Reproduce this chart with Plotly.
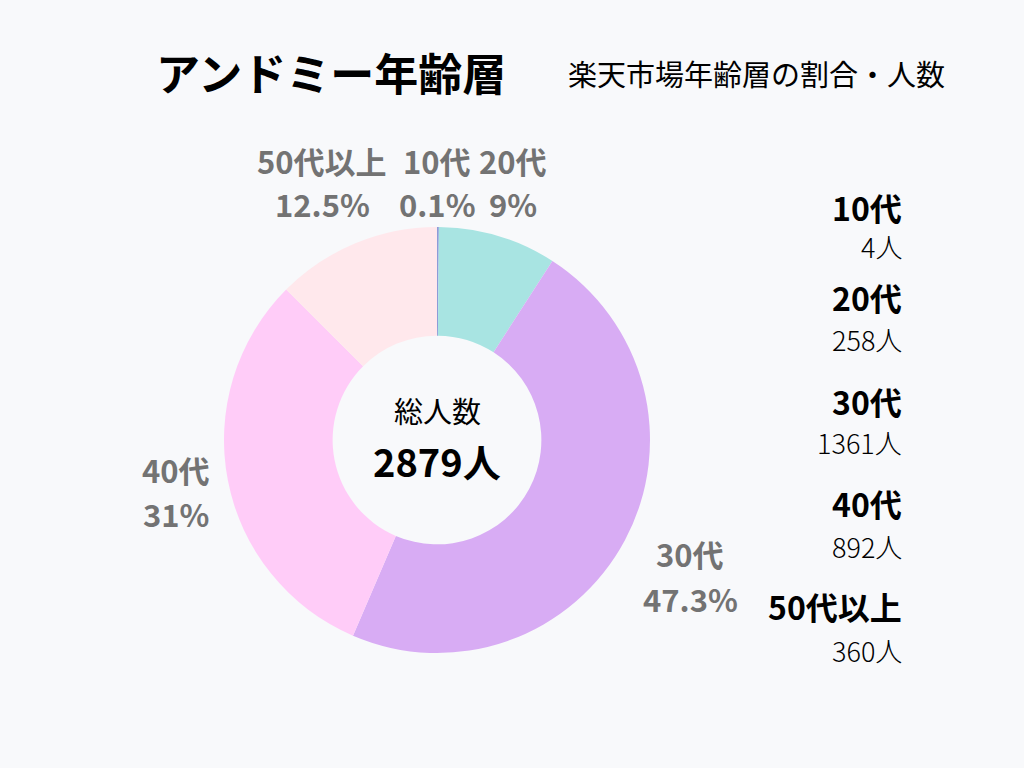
import plotly.graph_objects as go

categories = ["10代", "20代", "30代", "40代", "50代以上"]
counts = [4, 258, 1361, 892, 360]
percent_labels = ["0.1%", "9%", "47.3%", "31%", "12.5%"]
total_label = "2879人"
colors = ["#8E9BD8", "#A8E4E2", "#D8ACF4", "#FFCCF8", "#FFE8EC"]

W, H = 1024, 768
cx, cy, r = 437, 440, 213
FONT = "Noto Sans CJK JP"
BG = "#F8F9FB"

fig = go.Figure(go.Pie(
    labels=categories, values=counts, sort=False, direction="clockwise",
    rotation=0, hole=0.49, textinfo="none", hoverinfo="label+value",
    marker=dict(colors=colors, line=dict(width=0)),
    domain=dict(x=[(cx - r) / W, (cx + r) / W], y=[(H - cy - r) / H, (H - cy + r) / H]),
    showlegend=False,
))

ann = []
def txt(x, y, s, size, color="#000", bold=False, anchor="center", weight=None):
    f = dict(family=FONT, size=size, color=color)
    if weight:
        f["weight"] = weight
    ann.append(dict(x=x / W, y=1 - y / H, xref="paper", yref="paper", text=(f"<b>{s}</b>" if bold else s),
                    showarrow=False, xanchor=anchor, yanchor="middle", font=f))

txt(331, 72, "アンドミー年齢層", 44, bold=True)
txt(756, 73, "楽天市場年齢層の割合・人数", 29)

# slice labels
gray = "#737373"
label_pos = {"10代": (437, 160, 203), "20代": (513, 160, 203), "30代": (690, 553, 598),
             "40代": (176, 469, 513), "50代以上": (322, 160, 203)}
for c, p in zip(categories, percent_labels):
    x, y1, y2 = label_pos[c]
    txt(x, y1, c, 31, gray, bold=True)
    txt(x, y2, p, 31, gray, bold=True)

# center text
txt(437, 410, "総人数", 29)
txt(437, 460, total_label, 38, bold=True)

# right side list
legend_y = [(207, 246), (297, 340), (401, 442), (503, 546), (606, 650)]
for c, n, (y1, y2) in zip(categories, counts, legend_y):
    txt(904, y1, c, 32, bold=True, anchor="right")
    txt(904, y2, f"{n}人", 27, anchor="right", weight=300)

fig.update_layout(width=W, height=H, margin=dict(l=0, r=0, t=0, b=0),
                  paper_bgcolor=BG, plot_bgcolor=BG, annotations=ann)
fig.write_html("out.html", config={"displayModeBar": False},
               post_script=f"document.body.style.margin='0';document.body.style.background='{BG}';")
